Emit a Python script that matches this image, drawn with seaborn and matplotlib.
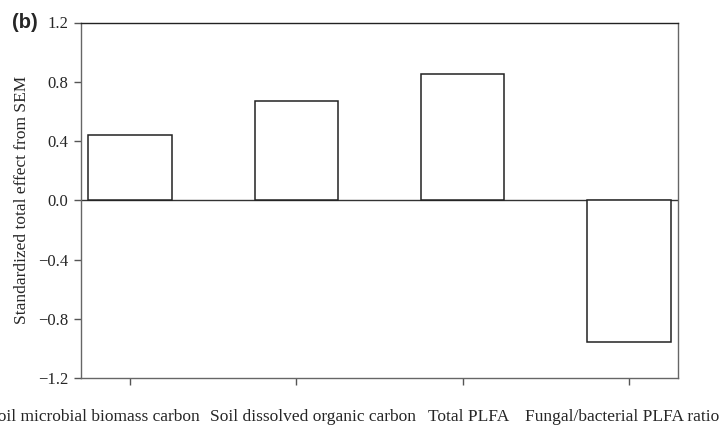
import matplotlib
matplotlib.use("Agg")
import matplotlib.pyplot as plt
import matplotlib.transforms as mtransforms
import seaborn as sns
import pandas as pd

categories = ["Soil microbial biomass carbon", "Soil dissolved organic carbon",
              "Total PLFA", "Fungal/bacterial PLFA ratio"]
effects = [0.44, 0.67, 0.85, -0.96]
yticks = [-1.2, -0.8, -0.4, 0.0, 0.4, 0.8, 1.2]
ytick_labels = ["\u22121.2", "\u22120.8", "\u22120.4", "0.0", "0.4", "0.8", "1.2"]

df = pd.DataFrame({"variable": categories, "effect": effects})

sns.set_style("white")
plt.rcParams["font.family"] = ["Liberation Serif", "DejaVu Serif"]

fig = plt.figure(figsize=(7.23, 4.26), dpi=100)
ax = fig.add_axes([81/723, 48/426, (678-81)/723, (378-22.5)/426])

sns.barplot(data=df, x="variable", y="effect", ax=ax, color="white",
            edgecolor="#222222", linewidth=1.1, width=0.5, saturation=1)

ax.axhline(0, color="#333333", lw=1.0, zorder=0.5)
ax.set_xlim(-0.295, 3.295)
ax.set_ylim(-1.2, 1.2)
ax.set_yticks(yticks)
ax.set_yticklabels(ytick_labels, fontsize=12)
ax.set_xlabel("")
ax.set_ylabel("Standardized total effect from SEM", fontsize=12.5, labelpad=6)
ax.tick_params(axis="x", which="both", bottom=True, direction="out", length=5,
               width=1, color="#555555", labelsize=12.5, pad=17)
ax.tick_params(axis="y", which="both", left=True, direction="out", length=5,
               width=1, color="#555555", pad=4)
for name, sp in ax.spines.items():
    sp.set_visible(True)
    sp.set_linewidth(1.0)
    sp.set_color("#222222" if name == "top" else "#666666")

# per-label horizontal placement (pixels at 100 dpi)
offsets_px = [70, -86, 6, 90]
aligns = ["right", "left", "center", "right"]
for lab, dx, ha in zip(ax.get_xticklabels(), offsets_px, aligns):
    lab.set_horizontalalignment(ha)
    lab.set_transform(lab.get_transform() +
                      mtransforms.ScaledTranslation(dx / 100, 0, fig.dpi_scale_trans))

fig.text(12/723, 1 - 22/426, "(b)", fontsize=14.5, fontweight="bold",
         family=["Liberation Sans", "DejaVu Sans"], va="center", ha="left")

fig.savefig("out.png", dpi=100)
